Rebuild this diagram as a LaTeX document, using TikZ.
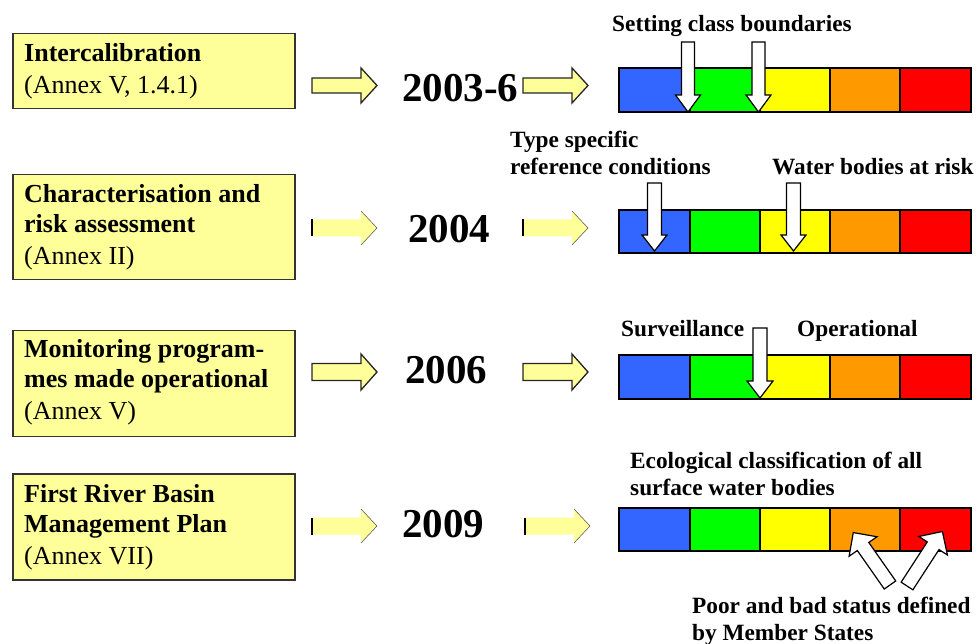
\documentclass[tikz,border=0pt]{standalone}
\usepackage{fontspec}
\setmainfont{Liberation Serif}
\definecolor{boxyellow}{HTML}{FFFF99}
\definecolor{cblue}{HTML}{3366FF}
\definecolor{cgreen}{HTML}{00FF00}
\definecolor{cyellow}{HTML}{FFFF00}
\definecolor{corange}{HTML}{FF9900}
\definecolor{cred}{HTML}{FF0000}
\newcommand{\blk}[8]{%
  \begin{scope}[shift={(#2,#3)},rotate=#4]
    \path[#1] (0,-#6) -- ({#5-#8},-#6) -- ({#5-#8},-#7) -- (#5,0) -- ({#5-#8},#7) -- ({#5-#8},#6) -- (0,#6) -- cycle;
  \end{scope}}
\newcommand{\softarrow}[2]{%
  \blk{fill=boxyellow}{#1}{#2}{0}{65}{8.5}{17}{16}
  \draw[line width=1.5pt] (#1,#2-8.5) -- (#1,#2+8.5);
  \draw[line width=0.5pt, black!70] (#1+49,#2-17) -- (#1+65,#2) -- (#1+49,#2+17);}
\newcommand{\colorbar}[3]{%
  \foreach \i/\c/\xa/\xb in {1/cblue/619/690,2/cgreen/690/760,3/cyellow/760/830,4/corange/830/900,5/cred/900/971}{
    \node[seg, fill=\c, minimum width={(\xb-\xa)*1pt}, minimum height={(#3-#2)*1pt}] (#1\i) at ({(\xa+\xb)/2},{(#2+#3)/2}) {};
  }}
\begin{document}
\begin{tikzpicture}[x=1pt,y=-1pt,
  box/.style={draw=black!80, line width=1.5pt, fill=boxyellow, anchor=north west, inner sep=0pt, minimum width=282pt},
  seg/.style={draw=black, line width=1.3pt, inner sep=0pt},
  boxbold/.style={anchor=base west, inner sep=0pt, font=\fontsize{26}{30}\selectfont\bfseries},
  boxreg/.style={anchor=base west, inner sep=0pt, font=\fontsize{26}{30}\selectfont},
  lbl/.style={anchor=base west, inner sep=0pt, font=\fontsize{23.3}{27}\selectfont\bfseries},
  year/.style={anchor=base west, inner sep=0pt, font=\fontsize{41}{45}\selectfont\bfseries},
  arrowbox/.style={fill=boxyellow, draw=black!85, line width=1.3pt},
  whitearrow/.style={fill=white, draw=black, line width=1.2pt, line join=miter}]
\useasboundingbox (0,0) rectangle (978,644);

% left boxes
\node[box, minimum height=75pt] (b1) at (12,33) {};
\node[box, minimum height=105pt] (b2) at (12,174) {};
\node[box, minimum height=106pt] (b3) at (12,330) {};
\node[box, minimum height=106pt] (b4) at (12,473) {};

\node[boxbold] (t1a) at (24,62) {Intercalibration};
\node[boxreg] (t1b) at (24,94) {(Annex V, 1.4.1)};
\node[boxbold] (t2a) at (24,203) {Characterisation and};
\node[boxbold] (t2b) at (24,233) {risk assessment};
\node[boxreg] (t2c) at (24,265) {(Annex II)};
\node[boxbold] (t3a) at (24,358) {Monitoring program-};
\node[boxbold] (t3b) at (24,388) {mes made operational};
\node[boxreg] (t3c) at (24,420) {(Annex V)};
\node[boxbold] (t4a) at (24,502) {First River Basin};
\node[boxbold] (t4b) at (24,532) {Management Plan};
\node[boxreg] (t4c) at (24,564) {(Annex VII)};

% years
\node[year] (y1) at (402,102) {2003-6};
\node[year] (y2) at (408,243) {2004};
\node[year] (y3) at (405,384) {2006};
\node[year] (y4) at (402,537) {2009};

% yellow arrows
\blk{arrowbox}{312}{85.5}{0}{65}{7.5}{17.5}{16}
\blk{arrowbox}{523}{85.5}{0}{65}{7.5}{17.5}{16}
\softarrow{312}{228}
\softarrow{523}{228}
\blk{arrowbox}{312}{372}{0}{65}{8.5}{18}{16}
\blk{arrowbox}{523}{372}{0}{65}{8.5}{18}{16}
\softarrow{312}{526}
\softarrow{525}{526}

% colour bars
\colorbar{ra}{68}{112}
\colorbar{rb}{210}{253}
\colorbar{rc}{355}{399}
\colorbar{rd}{508}{551}

% labels
\node[lbl] (l1) at (612,32) {Setting class boundaries};
\node[lbl] (l2a) at (510,148) {Type specific};
\node[lbl] (l2b) at (510,175) {reference conditions};
\node[lbl] (l2c) at (772,175) {Water bodies at risk};
\node[lbl] (l3a) at (621,337) {Surveillance};
\node[lbl] (l3b) at (797,337) {Operational};
\node[lbl] (l4a) at (630,468) {Ecological classification of all};
\node[lbl] (l4b) at (630,495) {surface water bodies};
\node[lbl] (l4c) at (692,613) {Poor and bad status defined};
\node[lbl] (l4d) at (692,640) {by Member States};

% white arrows
\blk{whitearrow}{688}{42}{-90}{70}{6.5}{12.5}{17}
\blk{whitearrow}{758.5}{42}{-90}{70}{6.5}{12.5}{17}
\blk{whitearrow}{654.5}{183}{-90}{68}{7}{12.5}{16}
\blk{whitearrow}{793.5}{183}{-90}{68}{7}{12.5}{16}
\blk{whitearrow}{760}{328}{-90}{70}{7}{13}{17}
\blk{whitearrow}{890}{585}{125}{64}{7}{17}{17}
\blk{whitearrow}{907}{586}{57}{65}{7}{17}{17}
\end{tikzpicture}
\end{document}
